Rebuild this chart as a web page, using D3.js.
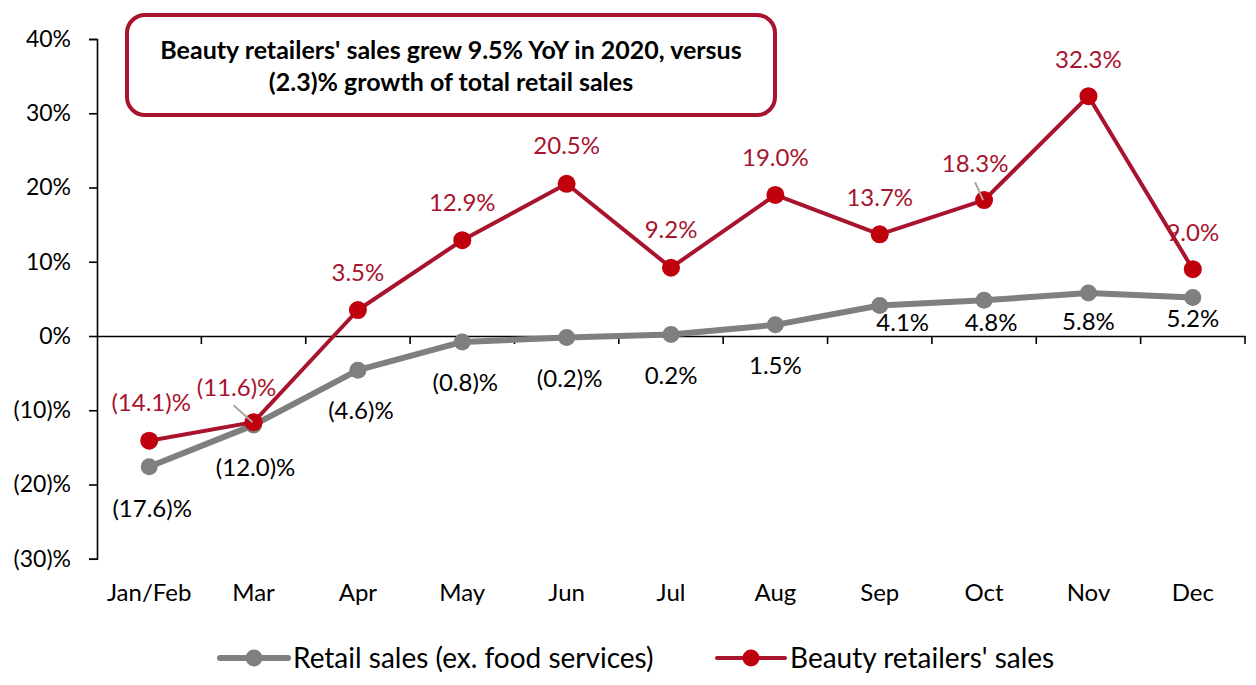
<!DOCTYPE html>
<html>
<head>
<meta charset="utf-8">
<script src="https://cdn.jsdelivr.net/npm/d3@7"></script>
<style>
  html, body { margin: 0; padding: 0; background: #fff; }
  svg { display: block; font-family: Lato, "Open Sans", sans-serif; }
</style>
</head>
<body>
<svg id="chart" width="1256" height="685"></svg>
<script>
// ---- data ----
const categories = ["Jan/Feb", "Mar", "Apr", "May", "Jun", "Jul", "Aug", "Sep", "Oct", "Nov", "Dec"];
const retailSales = [-17.6, -12.0, -4.6, -0.8, -0.2, 0.2, 1.5, 4.1, 4.8, 5.8, 5.2];
const beautySales = [-14.1, -11.6, 3.5, 12.9, 20.5, 9.2, 19.0, 13.7, 18.3, 32.3, 9.0];
const yTicks = [40, 30, 20, 10, 0, -10, -20, -30];
const seriesNames = ["Retail sales (ex. food services)", "Beauty retailers' sales"];
const titleLines = ["Beauty retailers' sales grew 9.5% YoY in 2020, versus", "(2.3)% growth of total retail sales"];

// label placement (layout only)
const beautyLabelOffsets = [[2,-38],[-17,-35],[0,-37],[0,-38],[0,-38],[0,-38],[0,-37],[0,-37],[-9,-37],[0,-37],[0,-37]];
const retailLabelOffsets = [[3,42],[2,42],[3,40],[3,41],[3,41],[0,41],[0,41],[23,17],[7,22],[0,29],[0,21]];

const RED_LINE = "#A8132D";
const RED_DOT = "#C0000C";
const GRAY = "#7F7F7F";

const fmt = v => {
  const s = Math.abs(v).toFixed(1) + "";
  return v < 0 ? "(" + s + ")%" : s + "%";
};
const fmtTick = v => v < 0 ? "(" + Math.abs(v) + ")%" : v + "%";

const svg = d3.select("#chart");

const x = d3.scaleBand().domain(categories).range([97, 1245]).padding(0);
const y = d3.scaleLinear().domain([-30, 40]).range([558.75, 39]);
const cx = c => x(c) + x.bandwidth() / 2;

// ---- y axis ----
const yAxis = d3.axisLeft(y).tickValues(yTicks).tickFormat(fmtTick).tickSize(8).tickPadding(18);
const gy = svg.append("g").attr("transform", "translate(97,0)").call(yAxis);
gy.select(".domain").attr("stroke", "#000").attr("stroke-width", 1.6);
gy.selectAll(".tick line").attr("stroke", "#000").attr("stroke-width", 1.6);
gy.selectAll(".tick text").attr("font-size", 23).attr("fill", "#000").attr("font-family", "Lato, sans-serif");

// ---- x axis at zero ----
const xAxis = d3.axisBottom(x).tickSize(0).tickFormat(d => d);
const gx = svg.append("g").attr("transform", `translate(0,${y(0)})`).call(xAxis);
gx.select(".domain").attr("stroke", "#000").attr("stroke-width", 1.6);
gx.selectAll(".tick text")
  .attr("font-size", 24).attr("fill", "#000").attr("font-family", "Lato, sans-serif")
  .attr("y", 593 - y(0)).attr("dy", "0.35em");
// boundary tick marks
const bounds = categories.map(c => x(c) + x.bandwidth());
gx.selectAll("line.bound").data(bounds).enter().append("line")
  .attr("class", "bound")
  .attr("x1", d => d).attr("x2", d => d)
  .attr("y1", 0).attr("y2", 8)
  .attr("stroke", "#000").attr("stroke-width", 1.6);

// ---- lines ----
const lineGen = d3.line().x((d, i) => cx(categories[i])).y(d => y(d));

svg.append("path").datum(retailSales).attr("d", lineGen)
  .attr("fill", "none").attr("stroke", GRAY).attr("stroke-width", 6).attr("stroke-linejoin", "round");
svg.selectAll("circle.retail").data(retailSales).enter().append("circle")
  .attr("class", "retail")
  .attr("cx", (d, i) => cx(categories[i])).attr("cy", d => y(d)).attr("r", 8.5)
  .attr("fill", GRAY);

svg.append("path").datum(beautySales).attr("d", lineGen)
  .attr("fill", "none").attr("stroke", RED_LINE).attr("stroke-width", 4).attr("stroke-linejoin", "round");
svg.selectAll("circle.beauty").data(beautySales).enter().append("circle")
  .attr("class", "beauty")
  .attr("cx", (d, i) => cx(categories[i])).attr("cy", d => y(d)).attr("r", 9)
  .attr("fill", RED_DOT);

// leader lines
const leaders = [[1, -20, -17], [8, -9, -18]];
leaders.forEach(([i, dx, dy]) => {
  const px = cx(categories[i]), py = y(beautySales[i]);
  svg.append("line")
    .attr("x1", px + dx).attr("y1", py + dy)
    .attr("x2", px - 1).attr("y2", py)
    .attr("stroke", "#A6A6A6").attr("stroke-width", 2);
});

// ---- data labels ----
svg.selectAll("text.blabel").data(beautySales).enter().append("text")
  .attr("class", "blabel")
  .attr("x", (d, i) => cx(categories[i]) + beautyLabelOffsets[i][0])
  .attr("y", (d, i) => y(d) + beautyLabelOffsets[i][1])
  .attr("dy", "0.35em").attr("text-anchor", "middle")
  .attr("font-size", 24).attr("fill", RED_LINE)
  .text(d => fmt(d));

svg.selectAll("text.rlabel").data(retailSales).enter().append("text")
  .attr("class", "rlabel")
  .attr("x", (d, i) => cx(categories[i]) + retailLabelOffsets[i][0])
  .attr("y", (d, i) => y(d) + retailLabelOffsets[i][1])
  .attr("dy", "0.35em").attr("text-anchor", "middle")
  .attr("font-size", 24).attr("fill", "#000")
  .text(d => fmt(d));

// ---- title box ----
svg.append("rect")
  .attr("x", 127).attr("y", 15).attr("width", 648).attr("height", 100)
  .attr("rx", 18).attr("ry", 18)
  .attr("fill", "#fff").attr("stroke", RED_LINE).attr("stroke-width", 4);
svg.selectAll("text.title").data(titleLines).enter().append("text")
  .attr("class", "title")
  .attr("x", 451).attr("y", (d, i) => 50 + i * 32)
  .attr("dy", "0.35em").attr("text-anchor", "middle")
  .attr("font-size", 25).attr("font-weight", "bold").attr("fill", "#000")
  .text(d => d);

// ---- legend ----
const legendItems = [
  { name: seriesNames[0], color: GRAY, dot: GRAY, w: 6, x0: 220 },
  { name: seriesNames[1], color: RED_LINE, dot: RED_DOT, w: 4, x0: 717 }
];
const lg = svg.append("g");
legendItems.forEach(it => {
  lg.append("line").attr("x1", it.x0).attr("x2", it.x0 + 68).attr("y1", 658).attr("y2", 658)
    .attr("stroke", it.color).attr("stroke-width", it.w).attr("stroke-linecap", "round");
  lg.append("circle").attr("cx", it.x0 + 34).attr("cy", 658).attr("r", 8.5).attr("fill", it.dot);
  lg.append("text").attr("x", it.x0 + 73).attr("y", 658).attr("dy", "0.35em")
    .attr("font-size", 28).attr("fill", "#000").text(it.name);
});
</script>
</body>
</html>
